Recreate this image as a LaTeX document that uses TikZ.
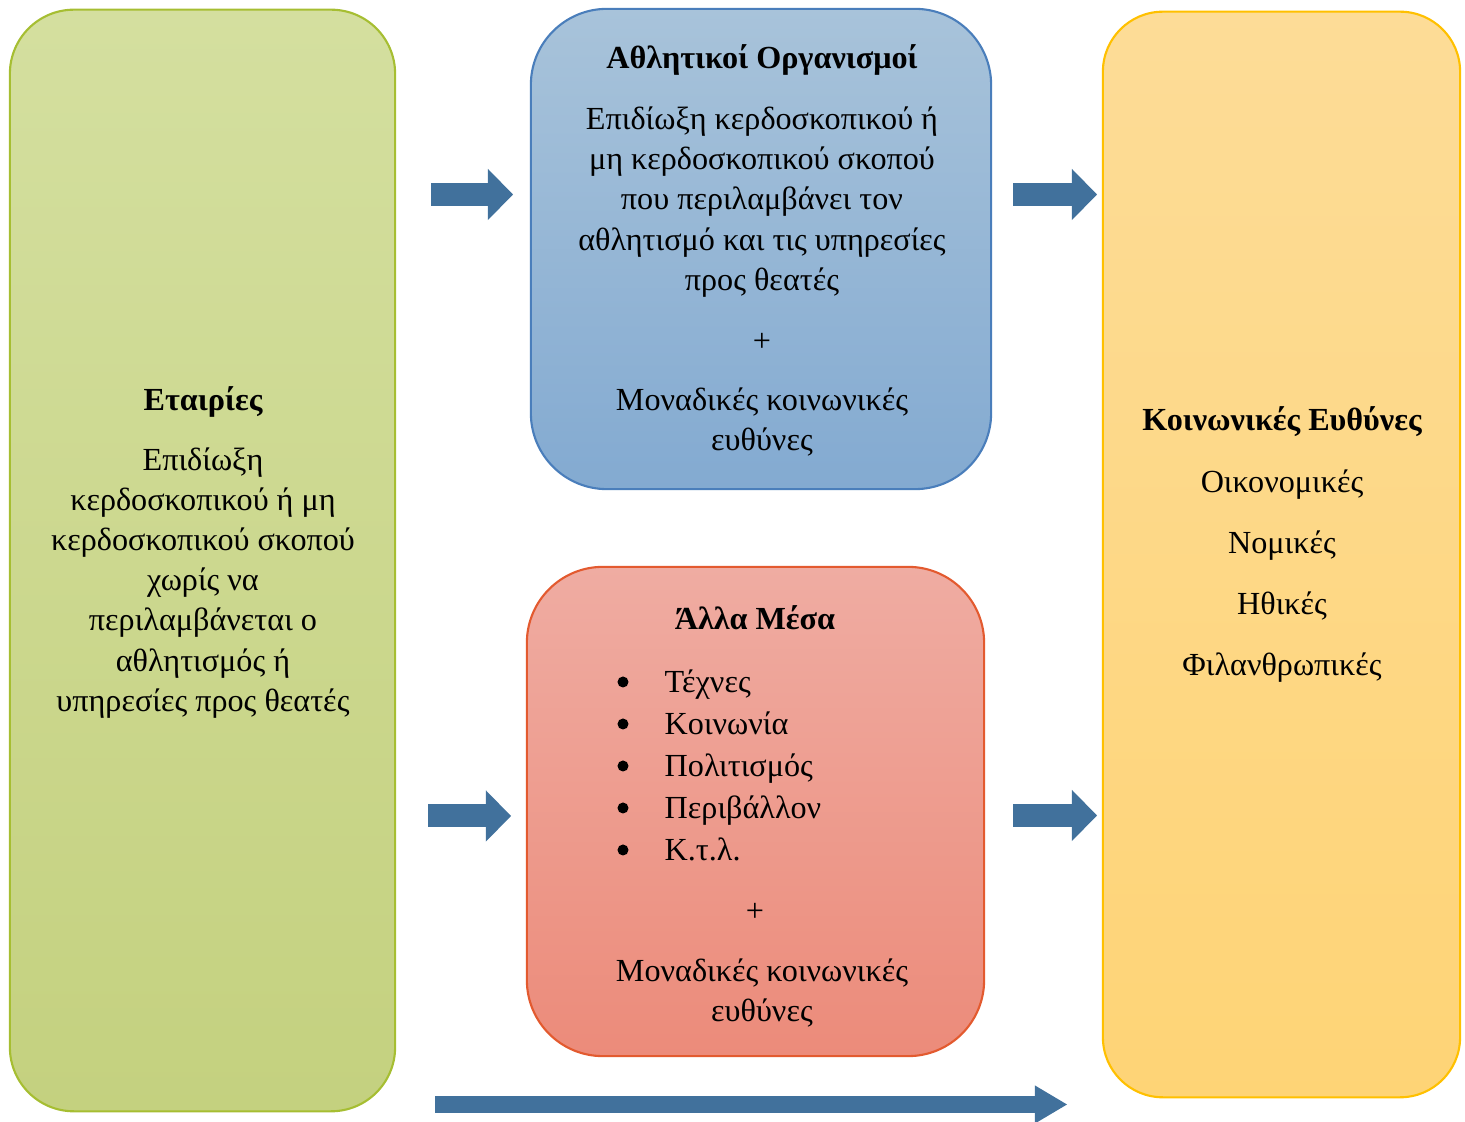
\documentclass[tikz,border=0pt]{standalone}
\usepackage{fontspec}
\setmainfont{Liberation Serif}
\usetikzlibrary{arrows.meta}

\definecolor{firmtop}{HTML}{D4DF9F}
\definecolor{firmbot}{HTML}{C4D17F}
\definecolor{firmline}{HTML}{A6BE32}
\definecolor{clubtop}{HTML}{A8C3DA}
\definecolor{clubbot}{HTML}{83AAD1}
\definecolor{clubline}{HTML}{4A7EBB}
\definecolor{othertop}{HTML}{EFACA2}
\definecolor{otherbot}{HTML}{EC8B7A}
\definecolor{otherline}{HTML}{E35A2F}
\definecolor{dutytop}{HTML}{FDDC97}
\definecolor{dutybot}{HTML}{FED476}
\definecolor{dutyline}{HTML}{FFC000}
\definecolor{flowblue}{HTML}{41719C}

\tikzset{
  panel/.style={draw, line width=0.6pt, inner sep=0pt},
  txt/.style={font=\fontsize{9.15pt}{11.4pt}\selectfont, align=center, inner sep=0pt},
  head/.style={txt, font=\fontsize{9.15pt}{11.4pt}\selectfont\bfseries},
  fatflow/.style={draw=flowblue, line width=0.23cm,
    -{Triangle[length=0.25cm, width=0.51cm, line width=0pt]}},
  thinflow/.style={draw=flowblue, line width=0.17cm,
    -{Triangle[length=0.32cm, width=0.38cm, line width=0pt]}}
}

\begin{document}
\begin{tikzpicture}[x=0.01cm, y=-0.01cm]
\useasboundingbox (0,0) rectangle (1465,1122);

\node (firms) [panel, rounded corners=0.64cm, draw=firmline, top color=firmtop, bottom color=firmbot,
  minimum width=3.85cm, minimum height=11.01cm] at (202.5,560.5) {};
\node (clubs) [panel, rounded corners=0.76cm, draw=clubline, top color=clubtop, bottom color=clubbot,
  minimum width=4.60cm, minimum height=4.80cm] at (761,249) {};
\node (other) [panel, rounded corners=0.76cm, draw=otherline, top color=othertop, bottom color=otherbot,
  minimum width=4.57cm, minimum height=4.89cm] at (755.5,811.5) {};
\node (duties) [panel, rounded corners=0.60cm, draw=dutyline, top color=dutytop, bottom color=dutybot,
  minimum width=3.57cm, minimum height=10.85cm] at (1281.5,554.5) {};

\node (firmshead) [head] at (203,402) {Εταιρίες};
\node (firmstext) [txt] at (203,583) {Επιδίωξη\\κερδοσκοπικού ή μη\\κερδοσκοπικού σκοπού\\χωρίς να\\περιλαμβάνεται ο\\αθλητισμός ή\\υπηρεσίες προς θεατές};

\node (clubshead) [head] at (762,60) {Αθλητικοί Οργανισμοί};
\node (clubstext) [txt] at (762,202) {Επιδίωξη κερδοσκοπικού ή\\μη κερδοσκοπικού σκοπού\\που περιλαμβάνει τον\\αθλητισμό και τις υπηρεσίες\\προς θεατές};
\node (clubsplus) [txt] at (762,342) {+};
\node (clubsunique) [txt] at (762,422) {Μοναδικές κοινωνικές\\ευθύνες};

\node (otherhead) [head] at (755,618) {Άλλα Μέσα};
\node (otherlist) [txt, align=left, anchor=west, font=\fontsize{9.15pt}{11.95pt}\selectfont] at (664,765)
  {Τέχνες\\Κοινωνία\\Πολιτισμός\\Περιβάλλον\\Κ.τ.λ.};
\foreach \k in {0,...,4}
  \fill (623,682+42*\k) circle (0.055cm);
\node (otherplus) [txt] at (755,912) {+};
\node (otherunique) [txt] at (762,993) {Μοναδικές κοινωνικές\\ευθύνες};

\node (dutieshead) [head] at (1282,422) {Κοινωνικές Ευθύνες};
\node (dutiestext) [txt, font=\fontsize{9.15pt}{17.4pt}\selectfont] at (1282,576) {Οικονομικές\\Νομικές\\Ηθικές\\Φιλανθρωπικές};

\coordinate (firmsout) at (431,194.5);
\coordinate (clubsin) at (513,194.5);
\coordinate (clubsout) at (1013,194.5);
\coordinate (dutiesin) at (1097,194.5);
\coordinate (firmsout2) at (428,816);
\coordinate (otherin) at (511,816);
\coordinate (otherout) at (1013,815.5);
\coordinate (dutiesin2) at (1097,815.5);
\coordinate (firmsout3) at (435,1104.5);
\coordinate (dutiesin3) at (1067,1104.5);

\draw[fatflow] (firmsout) -- (clubsin);
\draw[fatflow] (clubsout) -- (dutiesin);
\draw[fatflow] (firmsout2) -- (otherin);
\draw[fatflow] (otherout) -- (dutiesin2);
\draw[thinflow] (firmsout3) -- (dutiesin3);
\end{tikzpicture}
\end{document}
